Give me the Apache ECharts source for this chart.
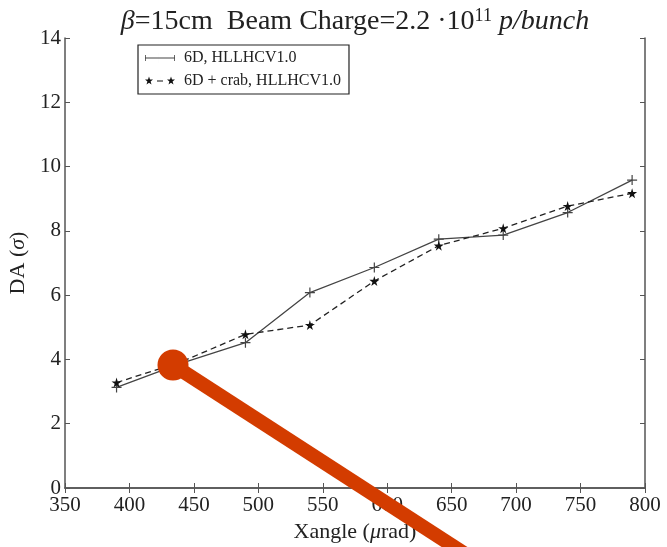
<!DOCTYPE html>
<html>
<head>
<meta charset="utf-8">
<script src="https://cdn.jsdelivr.net/npm/echarts@6/dist/echarts.min.js"></script>
<style>html,body{margin:0;padding:0;background:#fff}#c{width:667px;height:547px}</style>
</head>
<body>
<div id="c"></div>
<script>
const xangle = [390, 440, 490, 540, 590, 640, 690, 740, 790];
const da6D = [3.13, 3.88, 4.52, 6.08, 6.86, 7.74, 7.87, 8.57, 9.58];
const da6DCrab = [3.28, 3.92, 4.78, 5.07, 6.44, 7.54, 8.08, 8.77, 9.17];
const seriesNames = ['6D, HLLHCV1.0', '6D + crab, HLLHCV1.0'];
const xTicks = [350, 400, 450, 500, 550, 600, 650, 700, 750, 800];
const yTicks = [0, 2, 4, 6, 8, 10, 12, 14];

const font = '"Liberation Serif", "DejaVu Serif", serif';
const frameColor = '#555';
const plusPath = 'path://M0,4.4h10v1.2h-10z M4.4,0h1.2v10h-1.2z';
const starPath = 'path://M50,0 L61,35 L98,35 L68,57 L79,91 L50,70 L21,91 L32,57 L2,35 L39,35 Z';
const legendPlusIcon = 'path://M0,4.6h30v0.8h-30z M0,2h0.8v6h-0.8z M29.2,2h0.8v6h-0.8z M13,0h0.01v10h-0.01z';
const legendStarIcon = 'path://M4,0.5 L5,3.6 L8,3.6 L5.6,5.5 L6.5,8.6 L4,6.7 L1.5,8.6 L2.4,5.5 L0,3.6 L3,3.6 Z M26,0.5 L27,3.6 L30,3.6 L27.6,5.5 L28.5,8.6 L26,6.7 L23.5,8.6 L24.4,5.5 L22,3.6 L25,3.6 Z M12,4.6h6v0.8h-6z M15,0h0.01v10h-0.01z';

const chart = echarts.init(document.getElementById('c'), null, {renderer: 'canvas'});
const axisCommon = {
  type: 'value',
  axisLine: {show: true, lineStyle: {color: frameColor, width: 1.5}},
  axisTick: {show: true, inside: true, length: 5, lineStyle: {color: frameColor, width: 1}},
  splitLine: {show: false}
};
chart.setOption({
  animation: false,
  backgroundColor: '#fff',
  title: {
    text: '{i|β}=15cm  Beam Charge=2.2 ·10{sup|11} {i|p/bunch}',
    left: 350, top: 2, textAlign: 'center',
    textStyle: {
      fontFamily: font, fontSize: 28, fontWeight: 'normal', color: '#222',
      rich: {
        i: {fontFamily: font, fontStyle: 'italic', fontSize: 28, color: '#222'},
        sup: {fontFamily: font, fontSize: 18, verticalAlign: 'top', padding: [0, 0, 12, 0], color: '#222'}
      }
    }
  },
  grid: {left: 65, right: 22, top: 38, bottom: 59, containLabel: false, outerBoundsMode: 'none'},
  legend: {
    left: 138, top: 45, orient: 'vertical',
    itemWidth: 30, itemHeight: 10, itemGap: 7,
    padding: [5, 8, 5, 7],
    borderColor: '#222', borderWidth: 1.2, backgroundColor: '#fff',
    textStyle: {fontFamily: font, fontSize: 16, color: '#222', padding: [0, 0, 0, 4]},
    data: [
      {name: seriesNames[0], icon: legendPlusIcon},
      {name: seriesNames[1], icon: legendStarIcon}
    ]
  },
  xAxis: [
    Object.assign({}, axisCommon, {
      min: xTicks[0], max: xTicks[xTicks.length - 1], interval: 50, position: 'bottom',
      name: 'Xangle ({i|μ}rad)', nameLocation: 'middle', nameGap: 33,
      nameTextStyle: {fontFamily: font, fontSize: 22, color: '#222', rich: {i: {fontFamily: font, fontStyle: 'italic', fontSize: 22, color: '#222'}}},
      axisLabel: {fontFamily: font, fontSize: 21, color: '#222', margin: 7}
    }),
    Object.assign({}, axisCommon, {
      min: xTicks[0], max: xTicks[xTicks.length - 1], interval: 50, position: 'top',
      axisLabel: {show: false}
    })
  ],
  yAxis: [
    Object.assign({}, axisCommon, {
      min: yTicks[0], max: yTicks[yTicks.length - 1], interval: 2, position: 'left',
      name: 'DA ({i|σ})', nameLocation: 'middle', nameGap: 32, nameRotate: 90,
      nameTextStyle: {fontFamily: font, fontSize: 22, color: '#222', rich: {i: {fontFamily: font, fontStyle: 'italic', fontSize: 22, color: '#222'}}},
      axisLabel: {fontFamily: font, fontSize: 21, color: '#222', margin: 4}
    }),
    Object.assign({}, axisCommon, {
      min: yTicks[0], max: yTicks[yTicks.length - 1], interval: 2, position: 'right',
      axisLabel: {show: false}
    })
  ],
  series: [
    {
      name: seriesNames[0], type: 'line',
      data: xangle.map((x, i) => [x, da6D[i]]),
      symbol: plusPath, symbolSize: 10,
      lineStyle: {color: '#444', width: 1.3, type: 'solid'},
      itemStyle: {color: '#444'},
      z: 3
    },
    {
      name: seriesNames[1], type: 'line',
      data: xangle.map((x, i) => [x, da6DCrab[i]]),
      symbol: starPath, symbolSize: 10,
      lineStyle: {color: '#222', width: 1.3, type: [6, 4]},
      itemStyle: {color: '#111'},
      z: 4
    }
  ],
  graphic: [
    {type: 'line', shape: {x1: 173, y1: 365, x2: 470, y2: 557}, style: {stroke: '#d33c00', lineWidth: 14}, z: 100},
    {type: 'circle', shape: {cx: 173, cy: 365, r: 15.5}, style: {fill: '#d33c00'}, z: 101}
  ]
});
</script>
</body>
</html>
